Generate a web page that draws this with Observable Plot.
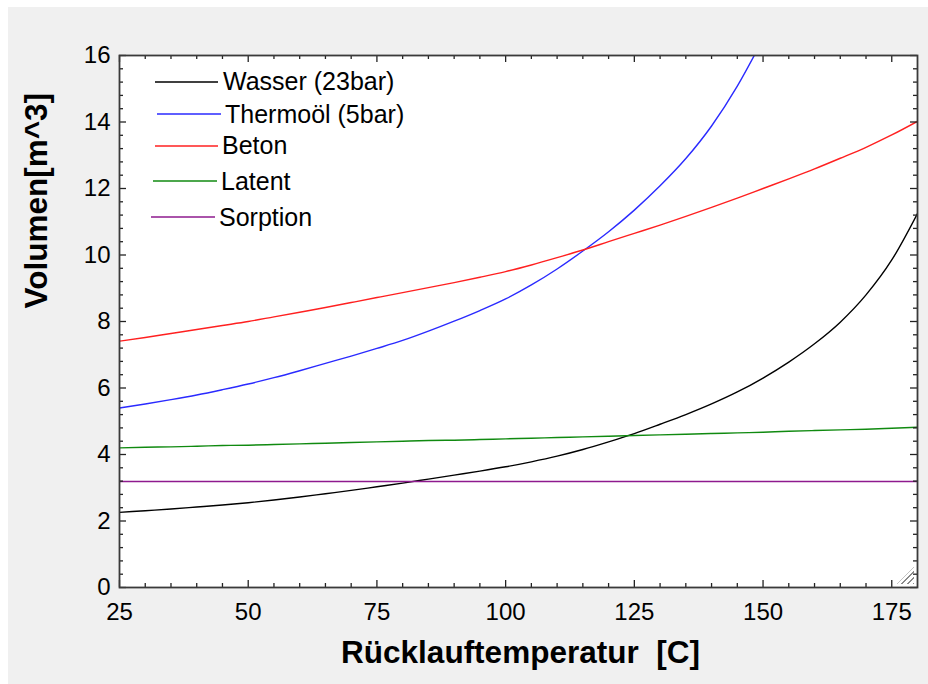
<!DOCTYPE html>
<html>
<head>
<meta charset="utf-8">
<script src="https://cdn.jsdelivr.net/npm/d3@7"></script>
<script src="https://cdn.jsdelivr.net/npm/@observablehq/plot@0.6"></script>
<style>
  html, body { margin: 0; padding: 0; background: #fff; }
  #panel { position: absolute; left: 8px; top: 7px; width: 920px; height: 677px; background: #f0f0f0;
           font-family: "Liberation Sans", Arial, sans-serif; overflow: hidden; }
  #chart svg { display: block; color: #000; }
  .row { position: absolute; display: flex; align-items: center; height: 30px; transform: translateY(-50%);
         font-size: 25px; color: #000; white-space: nowrap; }
  .row svg { display: block; }
  #grip { position: absolute; left: 889px; top: 560px; width: 17px; height: 17px;
          background: repeating-linear-gradient(-45deg, #8a8a8a 0 1.4px, transparent 1.4px 4px);
          clip-path: polygon(100% 0, 100% 100%, 0 100%); }
</style>
</head>
<body>
<div id="panel">
  <div id="chart"></div>
  <div id="legend"></div>
  <div id="grip"></div>
</div>
<script>
// Return temperature [°C] and storage volume [m^3] per storage medium
const temperatures = [25, 30, 35, 40, 45, 50, 55, 60, 65, 70, 75, 80, 85, 90, 95, 100,
                      105, 110, 115, 120, 125, 130, 135, 140, 145, 150, 155, 160, 165, 170, 175, 180];

const seriesNames = ["Wasser (23bar)", "Thermoöl (5bar)", "Beton", "Latent", "Sorption"];

const wasser = [2.26, 2.31, 2.36, 2.42, 2.48, 2.55, 2.63, 2.72, 2.82, 2.92, 3.03, 3.14, 3.26, 3.38, 3.50, 3.63,
                3.78, 3.95, 4.15, 4.38, 4.63, 4.91, 5.20, 5.52, 5.88, 6.30, 6.78, 7.33, 7.98, 8.80, 9.85, 11.25];

// Thermal oil leaves the axis range above 148 °C
const thermooel = [5.40, 5.52, 5.65, 5.79, 5.95, 6.12, 6.31, 6.52, 6.74, 6.96, 7.19, 7.43, 7.71, 8.01, 8.33, 8.68,
                   9.10, 9.58, 10.12, 10.70, 11.35, 12.08, 12.90, 13.88, 15.08, 16.50];

const beton = [7.41, 7.52, 7.64, 7.76, 7.88, 8.00, 8.14, 8.28, 8.42, 8.57, 8.72, 8.87, 9.02, 9.17, 9.33, 9.50,
               9.70, 9.92, 10.15, 10.40, 10.65, 10.90, 11.16, 11.43, 11.71, 12.00, 12.29, 12.59, 12.91, 13.24, 13.61, 14.02];

const latent = [4.20, 4.22, 4.23, 4.25, 4.27, 4.28, 4.30, 4.32, 4.34, 4.36, 4.38, 4.40, 4.42, 4.43, 4.45, 4.47,
                4.49, 4.51, 4.53, 4.55, 4.57, 4.59, 4.61, 4.63, 4.65, 4.67, 4.70, 4.72, 4.74, 4.76, 4.79, 4.82];

const sorption = [3.19, 3.19, 3.19, 3.19, 3.19, 3.19, 3.19, 3.19, 3.19, 3.19, 3.19, 3.19, 3.19, 3.19, 3.19, 3.19,
                  3.19, 3.19, 3.19, 3.19, 3.19, 3.19, 3.19, 3.19, 3.19, 3.19, 3.19, 3.19, 3.19, 3.19, 3.19, 3.19];

const xTickLabels = [25, 50, 75, 100, 125, 150, 175];
const yTickLabels = [0, 2, 4, 6, 8, 10, 12, 14, 16];

const seriesColors = ["#000000", "#2a2aff", "#ff2020", "#108a10", "#8e1a8e"];

// Long table for the line mark
const seriesValues = [wasser, thermooel, beton, latent, sorption];
const rows = seriesNames.flatMap((name, k) =>
  seriesValues[k].map((v, i) => ({T: temperatures[i], V: v, name})));

// Frame geometry
const W = 920, H = 677;
const mL = 111, mT = 48, mR = 11, mB = 97;
const plotW = W - mL - mR, plotH = H - mT - mB;
const majorLen = 7, minorLen = 4;

const xMinor = d3.range(25, 180, 5).filter(d => !xTickLabels.includes(d));
const yMinor = d3.range(0, 16.01, 0.4).map(d => +d.toFixed(1)).filter(d => !yTickLabels.includes(d));

const tickStyle = {stroke: "#222", strokeWidth: 1.3};

const chart = Plot.plot({
  width: W,
  height: H,
  marginLeft: mL, marginTop: mT, marginRight: mR, marginBottom: mB,
  style: {background: "transparent", fontFamily: "'Liberation Sans', Arial, sans-serif", color: "#000"},
  x: {domain: [25, 180]},
  y: {domain: [0, 16]},
  color: {domain: seriesNames, range: seriesColors},
  marks: [
    Plot.frame({fill: "white", stroke: null}),
    Plot.line(rows, {x: "T", y: "V", z: "name", stroke: "name", strokeWidth: 1.4, curve: "monotone-x", clip: true}),
    // inward ticks on all four sides
    Plot.tickX(xTickLabels, {x: d => d, insetTop: plotH - majorLen, ...tickStyle}),
    Plot.tickX(xTickLabels, {x: d => d, insetBottom: plotH - majorLen, ...tickStyle}),
    Plot.tickX(xMinor, {x: d => d, insetTop: plotH - minorLen, ...tickStyle}),
    Plot.tickX(xMinor, {x: d => d, insetBottom: plotH - minorLen, ...tickStyle}),
    Plot.tickY(yTickLabels, {y: d => d, insetRight: plotW - majorLen, ...tickStyle}),
    Plot.tickY(yTickLabels, {y: d => d, insetLeft: plotW - majorLen, ...tickStyle}),
    Plot.tickY(yMinor, {y: d => d, insetRight: plotW - minorLen, ...tickStyle}),
    Plot.tickY(yMinor, {y: d => d, insetLeft: plotW - minorLen, ...tickStyle}),
    Plot.frame({stroke: "#3a3a3a", strokeWidth: 1.8}),
    Plot.axisX({ticks: xTickLabels, tickSize: 0, tickPadding: 15, label: null, fontSize: 24, tickFormat: d => String(d)}),
    Plot.axisY({ticks: yTickLabels, tickSize: 0, tickPadding: 9, label: null, fontSize: 24, tickFormat: d => String(d)}),
    Plot.text(["Rücklauftemperatur \u00a0[C]"], {frameAnchor: "bottom", dy: 75, dx: 2, fontSize: 31.5, fontWeight: "bold", fill: "#000"}),
    Plot.text(["Volumen[m^3]"], {frameAnchor: "left", rotate: -90, dx: -83, dy: -13, fontSize: 31.5, fontWeight: "bold", fill: "#000"})
  ]
});
document.getElementById("chart").append(chart);

// Legend: short line swatch followed by the series name
const legendLayout = [
  {cy: 74.7, x0: 147, x1: 210, gap: 5},
  {cy: 107, x0: 149, x1: 213, gap: 4},
  {cy: 138.7, x0: 147, x1: 210, gap: 4},
  {cy: 174, x0: 145, x1: 209, gap: 4},
  {cy: 210.3, x0: 143, x1: 207, gap: 4}
];
const legend = document.getElementById("legend");
seriesNames.forEach((name, k) => {
  const L = legendLayout[k];
  const row = document.createElement("div");
  row.className = "row";
  row.style.left = L.x0 + "px";
  row.style.top = L.cy + "px";
  const len = L.x1 - L.x0;
  row.innerHTML =
    `<svg width="${len}" height="4"><line x1="0" x2="${len}" y1="2" y2="2" stroke="${seriesColors[k]}" stroke-width="1.5"/></svg>` +
    `<span style="margin-left:${L.gap}px">${name}</span>`;
  legend.append(row);
});
</script>
</body>
</html>
